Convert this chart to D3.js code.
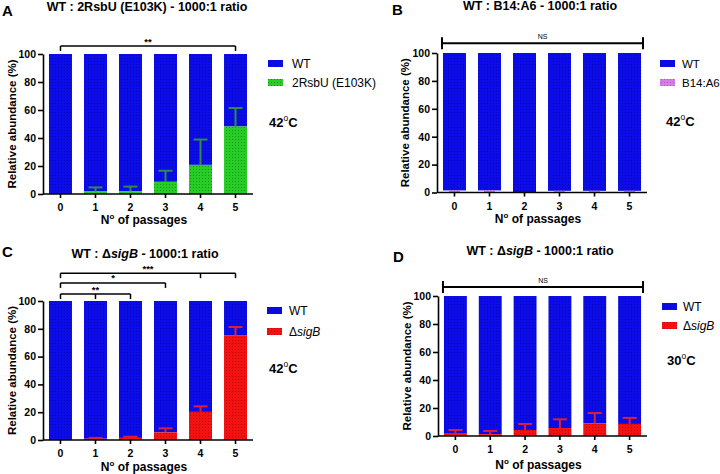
<!DOCTYPE html>
<html><head><meta charset="utf-8">
<script src="https://cdn.jsdelivr.net/npm/d3@7"></script>
<style>
body{margin:0;background:#fff;}
text{font-family:Arial,"Liberation Sans",sans-serif;}
</style></head>
<body>
<svg id="c" width="720" height="474"></svg>
<script>
const categories = ["0","1","2","3","4","5"];
const yTicks = [0,20,40,60,80,100];

// Panel A: WT : 2RsbU (E103K)
const mutantA = [0, 1.8, 2.0, 8.7, 20.8, 48.2];
const errA    = [0, 2.9, 3.3, 7.9, 18.1, 13.2];
// Panel B: WT : B14:A6
const mutantB = [1.5, 1.5, 0, 1.2, 1.2, 1.2];
const errB    = [0, 0, 0, 0, 0, 0];
// Panel C: WT : ΔsigB 42°C
const mutantC = [0, 0.9, 1.5, 5.5, 20.2, 75.4];
const errC    = [0, 0.6, 0.8, 2.9, 4.0, 5.9];
// Panel D: WT : ΔsigB 30°C
const mutantD = [2.1, 1.3, 4.3, 5.7, 9.1, 8.6];
const errD    = [2.2, 2.3, 4.3, 6.2, 7.3, 4.3];

// significance brackets: [from, to, midTick or null, level (% on y scale), label]
const sigA = [[0, 5, null, 105.7, "**"]];
const sigB = [[0, 5, null, 107, "NS"]];
const sigC = [[0, 2, 1, 105, "**"], [0, 3, null, 113, "*"], [0, 5, 4, 120, "***"]];
const sigD = [[0, 5, null, 106.4, "NS"]];

const svg = d3.select("#c");
const defs = svg.append("defs");
function pat(id, base, dot){
  const p = defs.append("pattern").attr("id", id).attr("width", 3).attr("height", 3)
    .attr("patternUnits", "userSpaceOnUse");
  p.append("rect").attr("width", 3).attr("height", 3).attr("fill", base);
  p.append("rect").attr("x", 1).attr("y", 1).attr("width", 1).attr("height", 1).attr("fill", dot);
}
pat("pBlue", "#0c0ce8", "#0606b4");
pat("pGreen", "#27cc27", "#139a13");
pat("pRed", "#f21212", "#c40606");
pat("pPink", "#d27ee2", "#b055c2");

const panels = [
  {letter:"A", lx:2, ly:16, title:[["WT : 2RsbU (E103K) - 1000:1 ratio", false]], tx:147, ty:10.5,
   ax:43, aend:253, y0:194, y100:54, mutant:mutantA, err:errA, fill:"url(#pGreen)", errColor:"#2e8b4e",
   legX:268, legY:60, legGap:19, legTextX:292, legFont:12,
   temp:"42", tempX:269, tempY:127, sig:sigA, ns:false, mutName:[["2RsbU (E103K)",false]],
   ytX:12, xtY:224},
  {letter:"B", lx:392, ly:15, title:[["WT : B14:A6 - 1000:1 ratio", false]], tx:540, ty:9.5,
   ax:437, aend:647, y0:192.5, y100:53, mutant:mutantB, err:errB, fill:"url(#pPink)", errColor:"#b05cc0",
   legX:660, legY:60, legGap:19, legTextX:682, legFont:11.5, narrow:true,
   temp:"42", tempX:666, tempY:126, sig:sigB, ns:true, mutName:[["B14:A6",false]],
   ytX:405, xtY:223},
  {letter:"C", lx:2, ly:257, title:[["WT : Δ", false],["sigB",true],[" - 1000:1 ratio",false]], tx:145, ty:258,
   ax:43, aend:253, y0:440, y100:301, mutant:mutantC, err:errC, fill:"url(#pRed)", errColor:"#d8203a",
   legX:267, legY:307, legGap:21, legTextX:289, legFont:12,
   temp:"42", tempX:269, tempY:373, sig:sigC, ns:false, mutName:[["Δ",false],["sigB",true]],
   ytX:12, xtY:471},
  {letter:"D", lx:393, ly:262, title:[["WT : Δ", false],["sigB",true],[" - 1000:1 ratio",false]], tx:540, ty:254.5,
   ax:438, aend:647, y0:436, y100:296, mutant:mutantD, err:errD, fill:"url(#pRed)", errColor:"#d8203a",
   legX:662, legY:303, legGap:19, legTextX:683, legFont:12,
   temp:"30", tempX:667, tempY:365, sig:sigD, ns:true, mutName:[["Δ",false],["sigB",true]],
   ytX:407, xtY:469}
];

function richText(sel, parts){
  parts.forEach(([t, it]) => sel.append("tspan").text(t).attr("font-style", it ? "italic" : "normal"));
}

panels.forEach(P => {
  const g = svg.append("g");
  const x = d3.scaleBand().domain(categories).range([P.ax, P.aend]).paddingInner(0.343).paddingOuter(0.171);
  const y = d3.scaleLinear().domain([0, 100]).range([P.y0, P.y100]);
  const bw = x.bandwidth();

  g.append("text").attr("x", P.lx).attr("y", P.ly).attr("font-size", 15).attr("font-weight", "bold").text(P.letter);
  const tt = g.append("text").attr("x", P.tx).attr("y", P.ty).attr("text-anchor", "middle")
    .attr("font-size", 12.5).attr("font-weight", "bold");
  richText(tt, P.title);

  const data = categories.map((c, i) => ({c, m: P.mutant[i], e: P.err[i], wt: 100 - P.mutant[i]}));

  g.selectAll(".wt").data(data).join("rect")
    .attr("x", d => x(d.c)).attr("width", bw)
    .attr("y", d => y(100)).attr("height", d => y(d.m) - y(100))
    .attr("fill", "url(#pBlue)");
  g.selectAll(".mu").data(data.filter(d => d.m > 0)).join("rect")
    .attr("x", d => x(d.c) + (P.narrow ? bw * 0.26 : 0)).attr("width", P.narrow ? bw * 0.48 : bw)
    .attr("y", d => y(d.m)).attr("height", d => y(0) - y(d.m))
    .attr("fill", P.fill);
  const eb = data.filter(d => d.e > 0);
  g.selectAll(".ev").data(eb).join("line")
    .attr("x1", d => x(d.c) + bw / 2).attr("x2", d => x(d.c) + bw / 2)
    .attr("y1", d => y(d.m)).attr("y2", d => y(d.m + d.e))
    .attr("stroke", P.errColor).attr("stroke-width", 2);
  g.selectAll(".ec").data(eb).join("line")
    .attr("x1", d => x(d.c) + bw / 2 - 7).attr("x2", d => x(d.c) + bw / 2 + 7)
    .attr("y1", d => y(d.m + d.e)).attr("y2", d => y(d.m + d.e))
    .attr("stroke", P.errColor).attr("stroke-width", 2);

  const ya = g.append("g").attr("transform", `translate(${P.ax},0)`)
    .call(d3.axisLeft(y).tickValues(yTicks).tickSize(5).tickSizeOuter(0).tickPadding(2));
  const xa = g.append("g").attr("transform", `translate(0,${P.y0})`)
    .call(d3.axisBottom(x).tickSize(4).tickSizeOuter(0).tickPadding(6));
  [ya, xa].forEach(a => {
    a.selectAll("path,line").attr("stroke", "#000").attr("stroke-width", 1.6);
    a.selectAll("text").attr("font-size", 10.5).attr("font-weight", "bold").attr("fill", "#000")
      .style("font-family", "Arial, 'Liberation Sans', sans-serif");
  });
  xa.select("path").attr("d", `M${P.ax},0H${P.aend}`);

  g.append("text").attr("transform", `translate(${P.ytX},${(P.y0 + P.y100) / 2}) rotate(-90)`)
    .attr("text-anchor", "middle").attr("dy", "0.35em").attr("font-size", 11.5).attr("font-weight", "bold")
    .text("Relative abundance (%)");
  const xt = g.append("text").attr("x", (P.ax + P.aend) / 2 - 4).attr("y", P.xtY).attr("text-anchor", "middle")
    .attr("font-size", 12).attr("font-weight", "bold");
  xt.append("tspan").text("N");
  xt.append("tspan").text("o").attr("font-size", 8).attr("dy", -5);
  xt.append("tspan").text(" of passages").attr("dy", 5);

  const legItems = [{fill: "url(#pBlue)", parts: [["WT", false]]}, {fill: P.fill, parts: P.mutName}];
  legItems.forEach((L, i) => {
    const yy = P.legY + i * P.legGap;
    g.append("rect").attr("x", P.legX).attr("y", yy).attr("width", 15).attr("height", 7).attr("fill", L.fill);
    const lt = g.append("text").attr("x", P.legTextX).attr("y", yy + 3.5).attr("dy", "0.35em").attr("font-size", P.legFont);
    richText(lt, L.parts);
  });

  const tp = g.append("text").attr("x", P.tempX).attr("y", P.tempY).attr("font-size", 13).attr("font-weight", "bold");
  tp.append("tspan").text(P.temp);
  tp.append("tspan").text("o").attr("font-size", 8.5).attr("font-weight", "normal").attr("dy", -6);
  tp.append("tspan").text("C").attr("dy", 6);

  P.sig.forEach(([a, b, mid, lvl, lab]) => {
    const yy = y(lvl);
    let x1, x2;
    if (P.ns) { x1 = x(categories[a]) - 1; x2 = x(categories[b]) + bw + 2; }
    else { x1 = x(categories[a]) + bw / 2; x2 = x(categories[b]) + bw / 2; }
    const s = g.append("g").attr("stroke", "#000").attr("stroke-width", P.ns ? 2 : 1.5);
    s.append("line").attr("x1", x1).attr("x2", x2).attr("y1", yy).attr("y2", yy);
    if (P.ns) {
      [x1, x2].forEach(xx => s.append("line").attr("x1", xx).attr("x2", xx).attr("y1", yy - 6).attr("y2", yy + 6));
    } else {
      [x1, x2].forEach(xx => s.append("line").attr("x1", xx).attr("x2", xx).attr("y1", yy).attr("y2", yy + 5));
      if (mid !== null) {
        const xm = x(categories[mid]) + bw / 2;
        s.append("line").attr("x1", xm).attr("x2", xm).attr("y1", yy).attr("y2", yy + 5);
      }
    }
    g.append("text").attr("x", (x1 + x2) / 2).attr("y", yy - (P.ns ? 4 : 1.5)).attr("text-anchor", "middle")
      .attr("font-size", P.ns ? 7 : 9.5).attr("font-weight", P.ns ? "normal" : "bold").text(lab);
  });
});
</script>
</body></html>
